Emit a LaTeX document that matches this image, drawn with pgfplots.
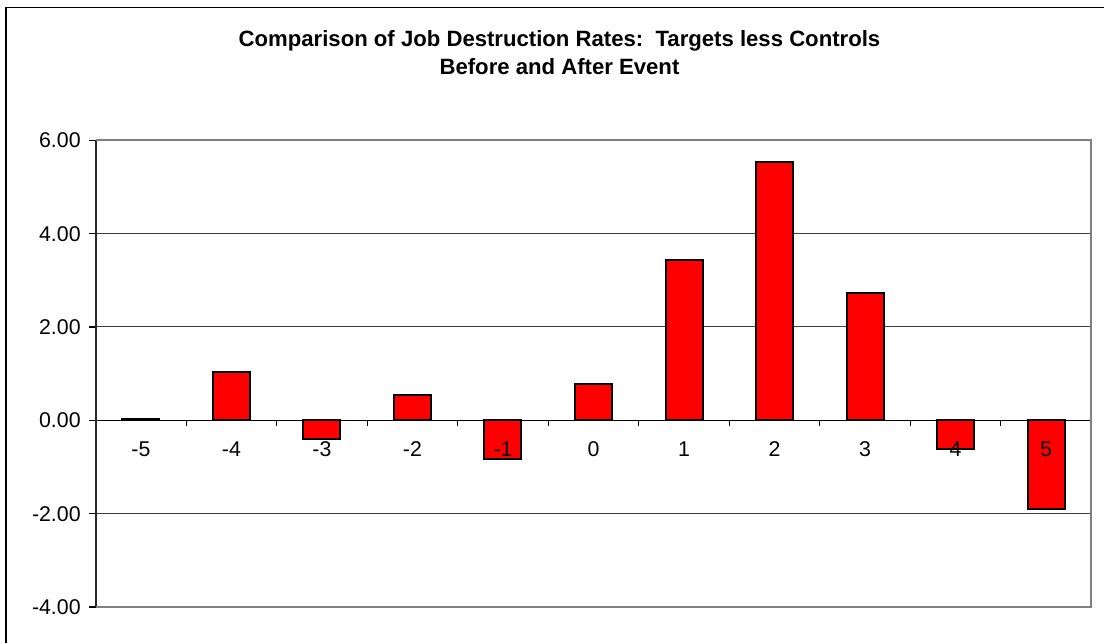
\documentclass[border=0pt]{standalone}
\usepackage{pgfplots}
\pgfplotsset{compat=1.18}
\usetikzlibrary{calc}
\usepackage{fontspec}
\setmainfont{Liberation Sans}
\pgfplotstableread{
t v
-5 0.02
-4 1.03
-3 -0.40
-2 0.55
-1 -0.82
0 0.78
1 3.44
2 5.53
3 2.73
4 -0.62
5 -1.89
}\datatable
\begin{document}
\begin{tikzpicture}[x=0.75pt,y=0.75pt]
\begin{axis}[
  name=main,
  set layers,
  scale only axis, width=746.7pt, height=350pt,
  xmin=-5.5, xmax=5.5, ymin=-4, ymax=6,
  axis x line*=middle, axis y line*=left,
  x axis line style={black, line width=0.8pt},
  y axis line style={black!85, line width=1.4pt},
  xtick={-5,...,5},
  xticklabels={-5,-4,-3,-2,-1,0,1,2,3,4,5},
  minor xtick={-4.5,-3.5,...,5.5},
  major x tick style={draw=none},
  minor x tick style={black, line width=0.8pt},
  minor tick length=4.5pt,
  ytick={-4,-2,0,2,4,6},
  yticklabels={-4.00,-2.00,0.00,2.00,4.00,6.00},
  major tick length=5.25pt,
  y tick style={black, line width=0.8pt},
  tick align=outside,
  ymajorgrids,
  major grid style={black!75, line width=0.75pt},
  ticklabel style={font=\fontsize{16pt}{19pt}\selectfont},
  xticklabel style={anchor=north, yshift=-7pt, /pgfplots/on layer=axis foreground},
  yticklabel style={xshift=-2.5pt},
  ybar, bar width=27.75pt,
  hide obscured x ticks=false,
  clip=false,
]
\coordinate (SW) at (rel axis cs:0,0);
\draw[gray, line width=1.5pt] (rel axis cs:0,1) -- (rel axis cs:1,1) -- (rel axis cs:1,0) -- (rel axis cs:0,0);
\addplot[fill=red, draw=black, line width=1.5pt] table[x=t, y=v] {\datatable};
\end{axis}
\coordinate (O) at ($(SW)+(-95.7,-36)$);
\useasboundingbox (O) rectangle ++(1104,643);
\node[font=\bfseries\fontsize{16.6pt}{20pt}\selectfont, anchor=base] at ($(O)+(559.5,596.3)$) {Comparison of Job Destruction Rates:~~Targets less Controls};
\node[font=\bfseries\fontsize{16.6pt}{20pt}\selectfont, anchor=base] at ($(O)+(559.5,568)$) {Before and After Event};
\draw[black, line width=0.9pt] ($(O)+(6,-20)$) -- ($(O)+(6,635.5)$) -- ($(O)+(1130,635.5)$);
\end{tikzpicture}
\end{document}
